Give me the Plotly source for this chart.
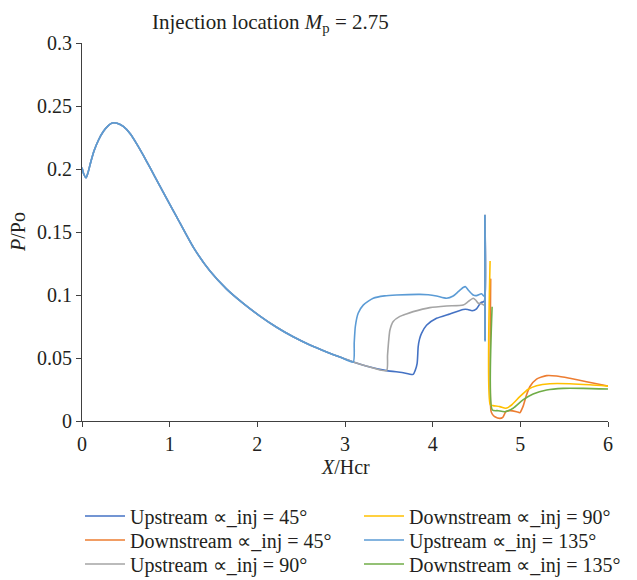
import plotly.graph_objects as go

# ---- data ----
# shared upstream pressure profile (before separation)
base_x = [0.0, 0.02, 0.046, 0.07, 0.10, 0.14, 0.19, 0.243, 0.30, 0.345, 0.40, 0.471, 0.55, 0.624,
          0.70, 0.775, 0.889, 0.966, 1.080, 1.269, 1.460, 1.650, 1.839, 2.030, 2.220, 2.409,
          2.600, 2.790, 2.95, 3.094, 3.25, 3.474, 3.65, 3.778]
base_y = [0.201, 0.196, 0.193, 0.1975, 0.2055, 0.2148, 0.2232, 0.2297, 0.2345, 0.2365, 0.2363, 0.2338, 0.2280, 0.2200,
          0.2108, 0.2012, 0.1865, 0.1765, 0.162, 0.138, 0.119, 0.1047, 0.0934, 0.0833, 0.0744, 0.0668,
          0.0603, 0.0548, 0.0505, 0.0468, 0.0435, 0.0400, 0.0385, 0.0370]

# upstream, after separation
u45_sep = 3.778
u45_x = [3.80, 3.823, 3.835, 3.850, 3.873, 3.93, 4.044, 4.196, 4.348, 4.40, 4.45, 4.50, 4.55, 4.588, 4.595, 4.598]
u45_y = [0.040, 0.0458, 0.059, 0.065, 0.0696, 0.076, 0.0815, 0.085, 0.0885, 0.0885, 0.0875, 0.089, 0.094, 0.095, 0.163, 0.064]

u90_sep = 3.474
u90_x = [3.485, 3.50, 3.512, 3.55, 3.626, 3.70, 3.778, 3.968, 4.158, 4.348, 4.405, 4.462, 4.49, 4.52, 4.56, 4.589, 4.595, 4.598]
u90_y = [0.052, 0.065, 0.072, 0.079, 0.083, 0.085, 0.0868, 0.090, 0.0913, 0.092, 0.0947, 0.0974, 0.096, 0.0934, 0.093, 0.092, 0.163, 0.065]

u135_sep = 3.094
u135_x = [3.105, 3.118, 3.15, 3.208, 3.322, 3.45, 3.588, 3.854, 3.95, 4.044, 4.158, 4.234, 4.291, 4.348, 4.375,
          4.405, 4.462, 4.50, 4.558, 4.585, 4.595, 4.598]
u135_y = [0.062, 0.075, 0.0855, 0.092, 0.0974, 0.0993, 0.100, 0.1005, 0.1002, 0.0992, 0.0974, 0.0992, 0.1026, 0.106, 0.1066,
          0.104, 0.100, 0.0995, 0.101, 0.099, 0.163, 0.063]

# downstream
d45_x = [4.662, 4.665, 4.68, 4.71, 4.766, 4.80, 4.835, 4.88, 4.957, 4.994, 5.03, 5.07, 5.108, 5.185, 5.30, 5.413, 5.564, 5.755, 6.0]
d45_y = [0.113, 0.008, 0.0055, 0.0034, 0.0021, 0.0029, 0.0074, 0.0082, 0.0074, 0.0066, 0.0114, 0.0206, 0.0272, 0.0333, 0.036, 0.0357, 0.0339, 0.0312, 0.0278]

d90_x = [4.655, 4.658, 4.69, 4.766, 4.835, 4.90, 4.994, 5.09, 5.185, 5.336, 5.564, 5.792, 6.0]
d90_y = [0.127, 0.0127, 0.0122, 0.0114, 0.0101, 0.0127, 0.0193, 0.0252, 0.028, 0.0296, 0.0296, 0.0288, 0.0277]

d135_x = [4.678, 4.681, 4.747, 4.823, 4.918, 5.03, 5.146, 5.30, 5.488, 5.716, 6.0]
d135_y = [0.0907, 0.0087, 0.0082, 0.0074, 0.0101, 0.0167, 0.0214, 0.0246, 0.0259, 0.0259, 0.0254]

x_ticks = [0, 1, 2, 3, 4, 5, 6]
y_ticks = [0, 0.05, 0.1, 0.15, 0.2, 0.25, 0.3]
y_tick_text = ["0", "0.05", "0.1", "0.15", "0.2", "0.25", "0.3"]


def upstream(sep, xs, ys):
    bx = [x for x in base_x if x <= sep]
    by = base_y[:len(bx)]
    return bx + xs, by + ys


FONT = "Liberation Serif"
FS = 20
TXT = "#231F20"

series = [
    ("Upstream ∝_inj = 45°", *upstream(u45_sep, u45_x, u45_y), "#4472C4", "legend"),
    ("Downstream ∝_inj = 45°", d45_x, d45_y, "#ED7D31", "legend2"),
    ("Upstream ∝_inj = 90°", *upstream(u90_sep, u90_x, u90_y), "#A5A5A5", "legend3"),
    ("Downstream ∝_inj = 90°", d90_x, d90_y, "#FFC000", "legend"),
    ("Upstream ∝_inj = 135°", *upstream(u135_sep, u135_x, u135_y), "#5B9BD5", "legend2"),
    ("Downstream ∝_inj = 135°", d135_x, d135_y, "#70AD47", "legend3"),
]

fig = go.Figure()
for name, xs, ys, col, lg in series:
    fig.add_trace(go.Scatter(x=xs, y=ys, mode="lines", name=name,
                             line=dict(color=col, width=1.6, shape="spline", smoothing=0.6),
                             legend=lg))

OFF = 8  # page body margin
W, H = 637 - OFF, 580 - OFF
L, R, T, B = 82 - OFF, 29, 43 - OFF, 159
pw, ph = W - L - R, H - T - B


def px2x(p):  # page pixel -> paper x
    return (p - OFF - L) / pw


def px2y(p):  # page pixel -> paper y
    return (H - B - (p - OFF)) / ph


leg_common = dict(orientation="h", xanchor="left", yanchor="middle",
                  entrywidth=224, entrywidthmode="pixels", itemwidth=40,
                  bgcolor="rgba(0,0,0,0)", font=dict(family=FONT, size=FS, color=TXT))

fig.update_layout(
    width=W, height=H,
    margin=dict(l=L, r=R, t=T, b=B, autoexpand=False),
    paper_bgcolor="white", plot_bgcolor="white",
    font=dict(family=FONT, size=FS, color=TXT),
    showlegend=True,
    legend=dict(x=px2x(80), y=px2y(516), **leg_common),
    legend2=dict(x=px2x(80), y=px2y(540), **leg_common),
    legend3=dict(x=px2x(80), y=px2y(564), **leg_common),
    xaxis=dict(range=[0, 6], tickvals=x_ticks, showgrid=False, zeroline=False,
               showline=True, linecolor="#404040", linewidth=1,
               ticks="outside", ticklen=5, tickcolor="#404040",
               tickfont=dict(family=FONT, size=FS, color=TXT)),
    yaxis=dict(range=[0, 0.3], tickvals=y_ticks, ticktext=y_tick_text, showgrid=False,
               zeroline=False, showline=True, linecolor="#404040", linewidth=1,
               ticks="outside", ticklen=5, tickcolor="#404040",
               tickfont=dict(family=FONT, size=FS, color=TXT)),
    annotations=[
        dict(text="Injection location <i>M</i><sub>p</sub> = 2.75", xref="paper", yref="paper",
             x=px2x(150), y=px2y(23), xanchor="left", yanchor="middle", showarrow=False,
             font=dict(family=FONT, size=21, color=TXT)),
        dict(text="<i>X</i>/Hcr", xref="paper", yref="paper", x=px2x(345), y=px2y(467),
             xanchor="center", yanchor="middle", showarrow=False,
             font=dict(family=FONT, size=FS, color=TXT)),
        dict(text="<i>P</i>/Po", xref="paper", yref="paper", x=px2x(18), y=px2y(232),
             xanchor="center", yanchor="middle", showarrow=False, textangle=-90,
             font=dict(family=FONT, size=FS, color=TXT)),
    ],
)

fig.write_html("out.html")
